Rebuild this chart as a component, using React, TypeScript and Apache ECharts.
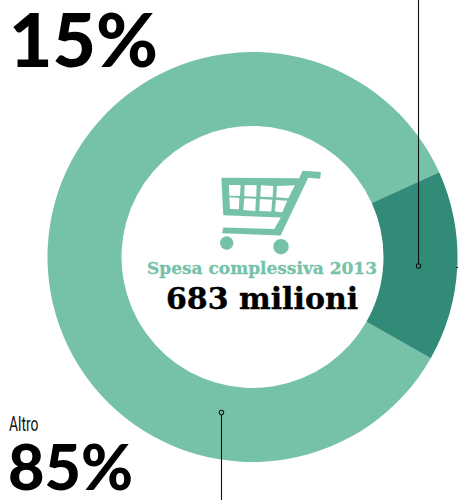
import React, { useEffect, useRef } from "react";
import * as echarts from "echarts";

// Share of the total spend, in per cent
const sliceNames = ["Altro", "Quota"];
const sliceValues = [85, 15];
const sliceColors = ["#76c2a8", "#318b78"];
const centerTitle = "Spesa complessiva 2013";
const centerValue = "683 milioni";

// Shopping cart body; the basket openings wind the opposite way so they stay empty
const CART_PATH =
  "M278 17 L333 21 L331 41 L295 38 L212 212 L36 205 L40 188 L193 192 L213 158 L40 151 L34 38 L268 40 Z " +
  "M57 60 L58 92 L90 93 L92 60 Z M104 60 L103 94 L139 95 L140 61 Z M153 61 L151 95 L188 97 L190 63 Z M201 63 L199 97 L235 100 L255 61 Z " +
  "M58 97 L60 132 L87 133 L88 99 Z M103 100 L100 135 L136 138 L138 101 Z M150 102 L148 138 L184 140 L187 104 Z M198 105 L195 140 L217 142 L232 107 Z";
echarts.graphic.registerShape("cart", echarts.graphic.extendPath(CART_PATH, {}) as any);

const ink = "#000000";
const leader = (x1: number, y1: number, x2: number, y2: number) => ({
  type: "line",
  z: 20,
  shape: { x1, y1, x2, y2 },
  style: { stroke: "#111111", lineWidth: 1.1 },
});
const dot = (cx: number, cy: number) => ({
  type: "circle",
  z: 21,
  shape: { cx, cy, r: 2.2 },
  style: { fill: "none", stroke: "#111111", lineWidth: 1.1 },
});
const label = (x: number, y: number, text: string, font: string, fill: string, align = "left", extra: any = {}) => ({
  type: "text",
  z: 22,
  x,
  y,
  ...extra,
  style: { text, font, fill, align, verticalAlign: "top", ...(extra.style || {}) },
});

export default function App() {
  const ref = useRef<HTMLDivElement>(null);
  useEffect(() => {
    document.body.style.margin = "0";
    const chart = echarts.init(ref.current!, undefined, { renderer: "svg" });
    chart.setOption({
      animation: false,
      backgroundColor: "#ffffff",
      series: [
        {
          type: "pie",
          center: [252.5, 257],
          radius: [131, 205],
          startAngle: 24.4 - 54,
          clockwise: true,
          silent: true,
          label: { show: false },
          labelLine: { show: false },
          itemStyle: { borderWidth: 0 },
          data: sliceNames.map((name, i) => ({
            name,
            value: sliceValues[i],
            itemStyle: { color: sliceColors[i] },
          })),
        },
      ],
      graphic: [
        {
          type: "cart",
          x: 210,
          y: 165,
          scaleX: 1 / 3,
          scaleY: 1 / 3,
          z: 10,
          style: { fill: sliceColors[0] },
        },
        { type: "circle", z: 10, shape: { cx: 226.7, cy: 243, r: 6.7 }, style: { fill: sliceColors[0] } },
        { type: "circle", z: 10, shape: { cx: 281, cy: 246.7, r: 7.7 }, style: { fill: sliceColors[0] } },
        label(262, 259, centerTitle, "bold 17px 'DejaVu Serif'", sliceColors[0], "center", {
          style: { stroke: sliceColors[0], lineWidth: 0.3 },
        }),
        label(262, 283, centerValue, "bold 30px 'DejaVu Serif'", ink, "center", {
          style: { stroke: ink, lineWidth: 0.4 },
        }),
        label(9, 0, "15%", "900 75px Lato", ink),
        label(9, 413, sliceNames[0], "400 21px Roboto", "#111111", "left", { scaleX: 0.66 }),
        label(8, 434, "85%", "900 63px Lato", ink),
        leader(418.5, 0, 418.5, 264),
        dot(418.5, 266),
        leader(221.5, 415, 221.5, 500),
        dot(221.5, 412.5),
        leader(456, 267.5, 458, 267.5),
      ],
    });
    return () => chart.dispose();
  }, []);
  return <div ref={ref} style={{ width: 458, height: 500 }} />;
}
